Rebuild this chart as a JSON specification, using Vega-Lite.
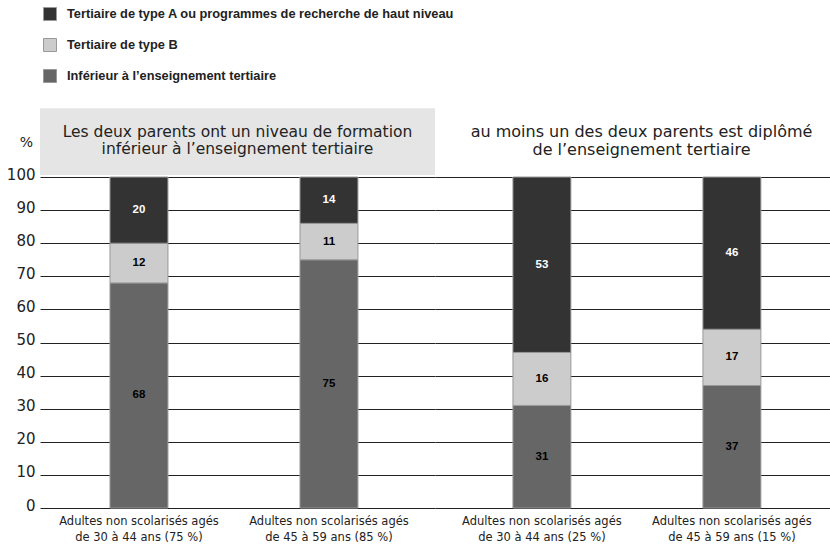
{
  "$schema": "https://vega.github.io/schema/vega-lite/v6.json",
  "padding": {"left": 6, "top": 7, "right": 0, "bottom": 0},
  "background": "white",
  "spacing": 0,
  "datasets": {
    "barres": [
      {"parents": "inf", "classe": "Adultes non scolarisés agés|de 30 à 44 ans (75 %)", "niveau": "Inférieur à l’enseignement tertiaire", "ordre": 1, "valeur": 68},
      {"parents": "inf", "classe": "Adultes non scolarisés agés|de 30 à 44 ans (75 %)", "niveau": "Tertiaire de type B", "ordre": 2, "valeur": 12},
      {"parents": "inf", "classe": "Adultes non scolarisés agés|de 30 à 44 ans (75 %)", "niveau": "Tertiaire de type A ou programmes de recherche de haut niveau", "ordre": 3, "valeur": 20},
      {"parents": "inf", "classe": "Adultes non scolarisés agés|de 45 à 59 ans (85 %)", "niveau": "Inférieur à l’enseignement tertiaire", "ordre": 1, "valeur": 75},
      {"parents": "inf", "classe": "Adultes non scolarisés agés|de 45 à 59 ans (85 %)", "niveau": "Tertiaire de type B", "ordre": 2, "valeur": 11},
      {"parents": "inf", "classe": "Adultes non scolarisés agés|de 45 à 59 ans (85 %)", "niveau": "Tertiaire de type A ou programmes de recherche de haut niveau", "ordre": 3, "valeur": 14},
      {"parents": "sup", "classe": "Adultes non scolarisés agés|de 30 à 44 ans (25 %)", "niveau": "Inférieur à l’enseignement tertiaire", "ordre": 1, "valeur": 31},
      {"parents": "sup", "classe": "Adultes non scolarisés agés|de 30 à 44 ans (25 %)", "niveau": "Tertiaire de type B", "ordre": 2, "valeur": 16},
      {"parents": "sup", "classe": "Adultes non scolarisés agés|de 30 à 44 ans (25 %)", "niveau": "Tertiaire de type A ou programmes de recherche de haut niveau", "ordre": 3, "valeur": 53},
      {"parents": "sup", "classe": "Adultes non scolarisés agés|de 45 à 59 ans (15 %)", "niveau": "Inférieur à l’enseignement tertiaire", "ordre": 1, "valeur": 37},
      {"parents": "sup", "classe": "Adultes non scolarisés agés|de 45 à 59 ans (15 %)", "niveau": "Tertiaire de type B", "ordre": 2, "valeur": 17},
      {"parents": "sup", "classe": "Adultes non scolarisés agés|de 45 à 59 ans (15 %)", "niveau": "Tertiaire de type A ou programmes de recherche de haut niveau", "ordre": 3, "valeur": 46}
    ]
  },
  "hconcat": [
    {
      "width": 395,
      "height": 331,
      "layer": [
        {
          "data": {"values": [{"titre": "Les deux parents ont un niveau de formation\ninférieur à l’enseignement tertiaire"}]},
          "mark": {"type": "rect", "color": "#e5e5e5", "clip": false},
          "encoding": {
            "y": {"datum": 100.6, "type": "quantitative", "scale": {"domain": [0, 100]},
                  "axis": {"title": "%", "titleAngle": 0, "titleX": -14, "titleY": -35, "titleAlign": "center", "titleBaseline": "middle", "titleFont": "DejaVu Sans", "titleFontWeight": "normal", "titleFontSize": 14, "titleColor": "#222",
                           "values": [0, 10, 20, 30, 40, 50, 60, 70, 80, 90, 100], "labelFont": "DejaVu Sans", "labelFontSize": 15, "labelColor": "#222", "labelPadding": 5, "labelOffset": -3, "ticks": false, "domain": false, "grid": true, "gridColor": "#222", "gridWidth": 1}},
            "y2": {"datum": 120.8}
          }
        },
        {
          "data": {"values": [{"titre": "Les deux parents ont un niveau de formation\ninférieur à l’enseignement tertiaire"}]},
          "mark": {"type": "text", "lineBreak": "\n", "font": "DejaVu Sans", "fontSize": 15.5, "color": "#222", "baseline": "middle", "lineHeight": 17.5, "clip": false},
          "encoding": {
            "y": {"datum": 113.6, "type": "quantitative", "scale": {"domain": [0, 100]},
                  "axis": {"title": "%", "titleAngle": 0, "titleX": -14, "titleY": -35, "titleAlign": "center", "titleBaseline": "middle", "titleFont": "DejaVu Sans", "titleFontWeight": "normal", "titleFontSize": 14, "titleColor": "#222",
                           "values": [0, 10, 20, 30, 40, 50, 60, 70, 80, 90, 100], "labelFont": "DejaVu Sans", "labelFontSize": 15, "labelColor": "#222", "labelPadding": 5, "labelOffset": -3, "ticks": false, "domain": false, "grid": true, "gridColor": "#222", "gridWidth": 1}},
            "text": {"field": "titre"}
          }
        },
        {
          "data": {"name": "barres"},
          "transform": [
            {"filter": "datum.parents === 'inf'"},
            {"stack": "valeur", "groupby": ["classe"], "sort": [{"field": "ordre", "order": "ascending"}], "as": ["v0", "v1"]}
          ],
          "mark": {"type": "bar", "stroke": "#999999", "strokeWidth": 1},
          "encoding": {
            "x": {"field": "classe", "type": "nominal", "sort": null,
                  "scale": {"paddingInner": 0.695, "paddingOuter": 0.387, "align": 0.476},
                  "axis": {"title": null, "labelAngle": 0, "labelExpr": "split(datum.label, '|')", "labelFont": "DejaVu Sans", "labelFontSize": 11.5, "labelColor": "#222", "labelPadding": 7, "labelLineHeight": 16, "domain": false, "ticks": false}},
            "y": {"field": "v0", "type": "quantitative", "scale": {"domain": [0, 100]},
                  "axis": {"title": "%", "titleAngle": 0, "titleX": -14, "titleY": -35, "titleAlign": "center", "titleBaseline": "middle", "titleFont": "DejaVu Sans", "titleFontWeight": "normal", "titleFontSize": 14, "titleColor": "#222",
                           "values": [0, 10, 20, 30, 40, 50, 60, 70, 80, 90, 100], "labelFont": "DejaVu Sans", "labelFontSize": 15, "labelColor": "#222", "labelPadding": 5, "labelOffset": -3, "ticks": false, "domain": false, "grid": true, "gridColor": "#222", "gridWidth": 1}},
            "y2": {"field": "v1"},
            "color": {"field": "niveau", "type": "nominal",
                      "scale": {"domain": ["Tertiaire de type A ou programmes de recherche de haut niveau", "Tertiaire de type B", "Inférieur à l’enseignement tertiaire"], "range": ["#333333", "#cccccc", "#666666"]},
                      "legend": {"title": null, "orient": "none", "legendX": 3, "legendY": -170, "direction": "vertical", "symbolType": "square", "symbolSize": 169, "symbolStrokeColor": "#999999", "symbolStrokeWidth": 1, "symbolOpacity": 1, "labelFont": "Liberation Sans", "labelFontWeight": "bold", "labelFontSize": 12.8, "labelColor": "#222", "labelOffset": 10, "labelLimit": 0, "rowPadding": 13, "padding": 0}}
          }
        },
        {
          "data": {"name": "barres"},
          "transform": [
            {"filter": "datum.parents === 'inf'"},
            {"stack": "valeur", "groupby": ["classe"], "sort": [{"field": "ordre", "order": "ascending"}], "as": ["v0", "v1"]},
            {"fold": ["v0", "v1"], "as": ["bord", "pos"]}
          ],
          "mark": {"type": "text", "font": "Liberation Sans", "fontWeight": "bold", "fontSize": 11.5, "baseline": "middle"},
          "encoding": {
            "x": {"field": "classe", "type": "nominal", "sort": null},
            "y": {"aggregate": "mean", "field": "pos", "type": "quantitative",
                  "axis": {"title": "%", "titleAngle": 0, "titleX": -14, "titleY": -35, "titleAlign": "center", "titleBaseline": "middle", "titleFont": "DejaVu Sans", "titleFontWeight": "normal", "titleFontSize": 14, "titleColor": "#222",
                           "values": [0, 10, 20, 30, 40, 50, 60, 70, 80, 90, 100], "labelFont": "DejaVu Sans", "labelFontSize": 15, "labelColor": "#222", "labelPadding": 5, "labelOffset": -3, "ticks": false, "domain": false, "grid": true, "gridColor": "#222", "gridWidth": 1}},
            "detail": {"field": "ordre", "type": "ordinal"},
            "text": {"field": "valeur", "type": "quantitative"},
            "color": {"condition": {"test": "datum.ordre === 3", "value": "white"}, "value": "black"}
          }
        }
      ]
    },
    {
      "width": 395,
      "height": 331,
      "layer": [
        {
          "data": {"values": [{"titre": "au moins un des deux parents est diplômé\nde l’enseignement tertiaire"}]},
          "mark": {"type": "text", "lineBreak": "\n", "font": "DejaVu Sans", "fontSize": 16, "color": "#222", "baseline": "middle", "lineHeight": 18.5, "clip": false, "dx": 9},
          "encoding": {
            "y": {"datum": 113.6, "type": "quantitative", "scale": {"domain": [0, 100]},
                  "axis": {"title": null, "labels": false, "values": [0, 10, 20, 30, 40, 50, 60, 70, 80, 90, 100], "ticks": false, "domain": false, "grid": true, "gridColor": "#222", "gridWidth": 1}},
            "text": {"field": "titre"}
          }
        },
        {
          "data": {"name": "barres"},
          "transform": [
            {"filter": "datum.parents === 'sup'"},
            {"stack": "valeur", "groupby": ["classe"], "sort": [{"field": "ordre", "order": "ascending"}], "as": ["v0", "v1"]}
          ],
          "mark": {"type": "bar", "stroke": "#999999", "strokeWidth": 1},
          "encoding": {
            "x": {"field": "classe", "type": "nominal", "sort": null,
                  "scale": {"paddingInner": 0.695, "paddingOuter": 0.387, "align": 0.53},
                  "axis": {"title": null, "labelAngle": 0, "labelExpr": "split(datum.label, '|')", "labelFont": "DejaVu Sans", "labelFontSize": 11.5, "labelColor": "#222", "labelPadding": 7, "labelLineHeight": 16, "domain": false, "ticks": false}},
            "y": {"field": "v0", "type": "quantitative", "scale": {"domain": [0, 100]},
                  "axis": {"title": null, "labels": false, "values": [0, 10, 20, 30, 40, 50, 60, 70, 80, 90, 100], "ticks": false, "domain": false, "grid": true, "gridColor": "#222", "gridWidth": 1}},
            "y2": {"field": "v1"},
            "color": {"field": "niveau", "type": "nominal",
                      "scale": {"domain": ["Tertiaire de type A ou programmes de recherche de haut niveau", "Tertiaire de type B", "Inférieur à l’enseignement tertiaire"], "range": ["#333333", "#cccccc", "#666666"]},
                      "legend": {"title": null, "orient": "none", "legendX": 3, "legendY": -170, "direction": "vertical", "symbolType": "square", "symbolSize": 169, "symbolStrokeColor": "#999999", "symbolStrokeWidth": 1, "symbolOpacity": 1, "labelFont": "Liberation Sans", "labelFontWeight": "bold", "labelFontSize": 12.8, "labelColor": "#222", "labelOffset": 10, "labelLimit": 0, "rowPadding": 13, "padding": 0}}
          }
        },
        {
          "data": {"name": "barres"},
          "transform": [
            {"filter": "datum.parents === 'sup'"},
            {"stack": "valeur", "groupby": ["classe"], "sort": [{"field": "ordre", "order": "ascending"}], "as": ["v0", "v1"]},
            {"fold": ["v0", "v1"], "as": ["bord", "pos"]}
          ],
          "mark": {"type": "text", "font": "Liberation Sans", "fontWeight": "bold", "fontSize": 11.5, "baseline": "middle"},
          "encoding": {
            "x": {"field": "classe", "type": "nominal", "sort": null},
            "y": {"aggregate": "mean", "field": "pos", "type": "quantitative",
                  "axis": {"title": null, "labels": false, "values": [0, 10, 20, 30, 40, 50, 60, 70, 80, 90, 100], "ticks": false, "domain": false, "grid": true, "gridColor": "#222", "gridWidth": 1}},
            "detail": {"field": "ordre", "type": "ordinal"},
            "text": {"field": "valeur", "type": "quantitative"},
            "color": {"condition": {"test": "datum.ordre === 3", "value": "white"}, "value": "black"}
          }
        }
      ]
    }
  ],
  "resolve": {"scale": {"color": "shared"}, "legend": {"color": "shared"}},
  "config": {"view": {"stroke": null}}
}
